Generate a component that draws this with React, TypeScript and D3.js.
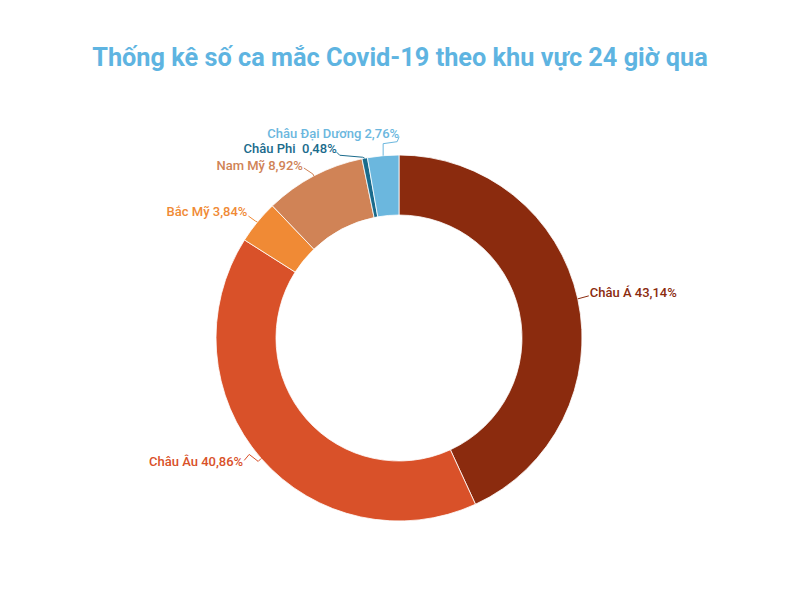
import React from "react";
import * as d3 from "d3";

const categories = ["Châu Á", "Châu Âu", "Bắc Mỹ", "Nam Mỹ", "Châu Phi", "Châu Đại Dương"];
const values = [43.14, 40.86, 3.84, 8.92, 0.48, 2.76];
const labelTexts = ["Châu Á 43,14%", "Châu Âu 40,86%", "Bắc Mỹ 3,84%", "Nam Mỹ 8,92%", "Châu Phi  0,48%", "Châu Đại Dương 2,76%"];
const colors = ["#8B2B0E", "#D95129", "#F08A35", "#D08356", "#1A6B8C", "#6BB7DE"];
const title = "Thống kê số ca mắc Covid-19 theo khu vực 24 giờ qua";

const W = 800, H = 607;
const cx = 399, cy = 338, R = 183, r = 123;

// leader-line bends and text offsets relative to each slice's outer-mid anchor
const leaderBends: [number, number][][] = [
  [[11, -3]],
  [[-3, 3], [-12, -4], [-17, 2]],
  [[-2, -1], [-9, -6]],
  [[-1, -2], [-10, -8]],
  [[-2, -1], [-25, -3], [-28, -6]],
  [[0, -12], [14, -14], [16, -19]],
];
const textOffsets: [number, number][] = [
  [12, -2],
  [-18, 8],
  [-10, -6],
  [-11, -6],
  [-28, -5],
  [16, -18],
];

export default function App() {
  const pie = d3.pie<number>().sort(null).value((d) => d)(values);
  const arc = d3.arc<d3.PieArcDatum<number>>().innerRadius(r).outerRadius(R);
  return (
    <svg width={W} height={H} style={{ position: "absolute", left: 0, top: 0, background: "#fff" }}>
      <text x={400} y={66} textAnchor="middle" fontFamily="Roboto" fontWeight="bold" fontSize={25.3} fill="#5EB4E1">
        {title}
      </text>
      <g transform={`translate(${cx},${cy})`}>
        {pie.map((p, i) => (
          <path key={i} d={arc(p) || ""} fill={colors[i]} stroke="#fff" strokeWidth={0.8} />
        ))}
      </g>
      {pie.map((p, i) => {
        const mid = (p.startAngle + p.endAngle) / 2;
        const ax = cx + R * Math.sin(mid);
        const ay = cy - R * Math.cos(mid);
        const pts = [[ax, ay], ...leaderBends[i].map(([dx, dy]) => [ax + dx, ay + dy])];
        const right = Math.sin(mid) > 0;
        const [tx, ty] = textOffsets[i];
        return (
          <g key={i}>
            <path d={d3.line()(pts as [number, number][]) || ""} fill="none" stroke={colors[i]} strokeWidth={1} />
            <text
              x={ax + tx}
              y={ay + ty}
              textAnchor={right ? "start" : "end"}
              fontFamily="Roboto"
              fontWeight={500}
              fontSize={13}
              fill={colors[i]}
              style={{ whiteSpace: "pre" }}
            >
              {labelTexts[i]}
            </text>
          </g>
        );
      })}
    </svg>
  );
}
